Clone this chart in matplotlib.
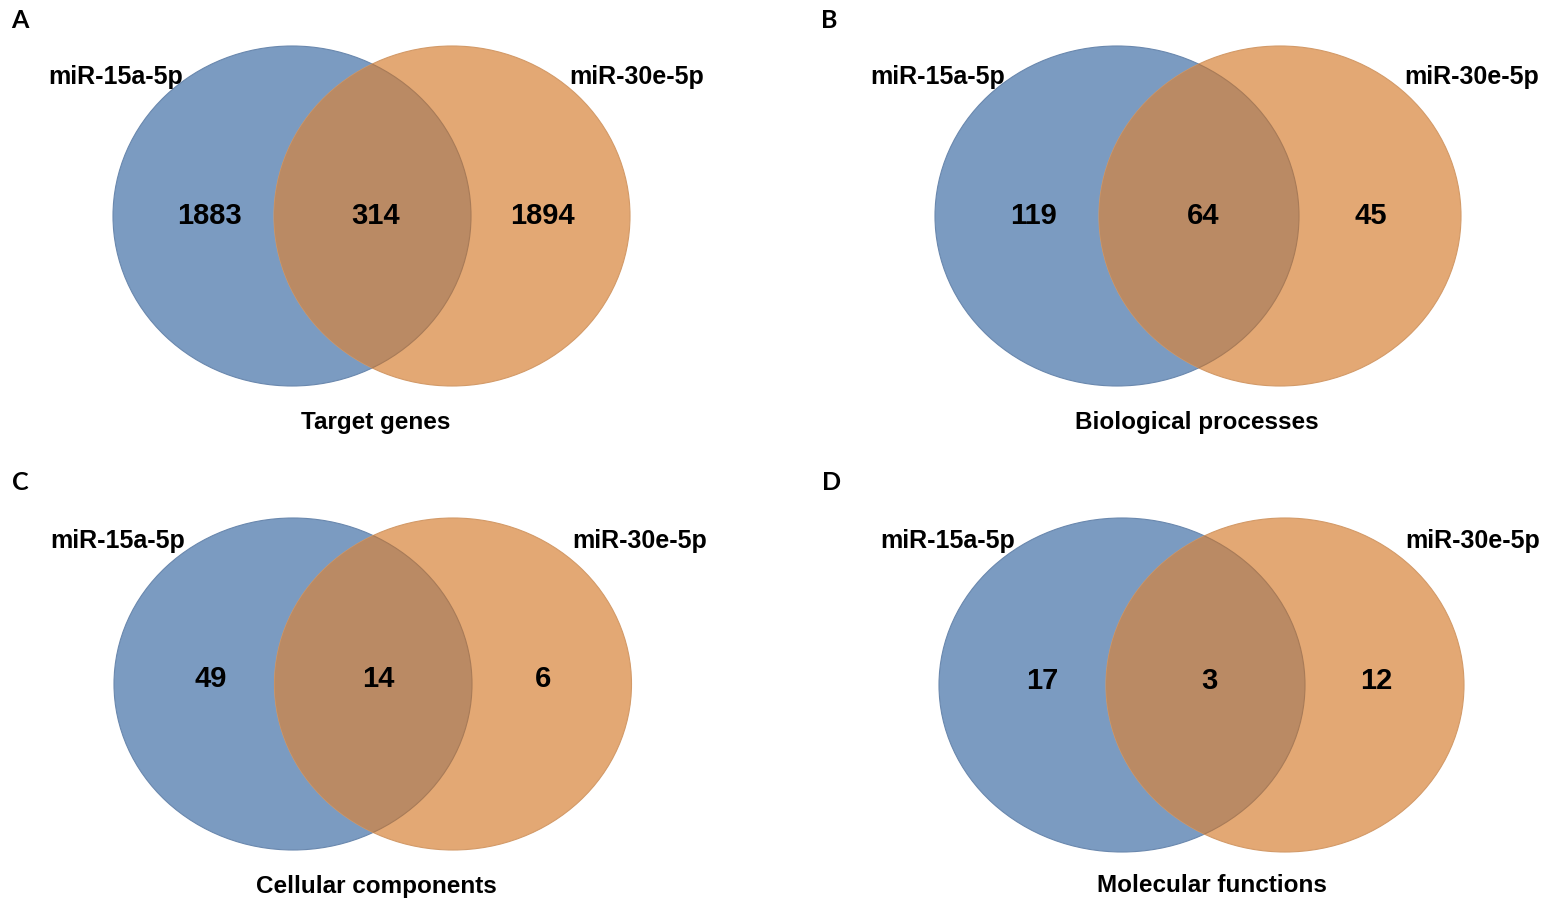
import matplotlib
matplotlib.use("Agg")
import matplotlib.pyplot as plt
from matplotlib.patches import Ellipse

# Venn counts per panel: (only miR-15a-5p, shared, only miR-30e-5p)
panel_letters = ["A", "B", "C", "D"]
panel_titles = ["Target genes", "Biological processes", "Cellular components", "Molecular functions"]
set_names = ["miR-15a-5p", "miR-30e-5p"]
only_15a = [1883, 119, 49, 17]
shared = [314, 64, 14, 3]
only_30e = [1894, 45, 6, 12]

BLUE = "#7B9BC1"
ORANGE = "#E3A874"
OVERLAP = "#BA8A64"
EDGE_BLUE = "#6A88AE"
EDGE_ORANGE = "#D39A68"

W, H = 1549, 901
fig = plt.figure(figsize=(W / 100, H / 100), dpi=100)
ax = fig.add_axes([0, 0, 1, 1])
ax.set_xlim(0, W)
ax.set_ylim(H, 0)
ax.set_aspect("auto")
ax.axis("off")

# layout per panel (pixel space)
layout = [
    dict(letter=(20, 20), lc=(292, 216), lw=358, rc=(452, 216), rw=356, eh=340,
         ln=(116, 77), rn=(637, 77), num_y=216, nx=(209, 376, 542), title=(376, 422)),
    dict(letter=(829, 20), lc=(1117, 216), lw=364, rc=(1280, 216), rw=362, eh=340,
         ln=(938, 77), rn=(1472, 77), num_y=216, nx=(1034, 1203, 1371), title=(1197, 422)),
    dict(letter=(20, 483), lc=(293, 684), lw=358, rc=(453, 684), rw=357, eh=332,
         ln=(118, 541), rn=(640, 541), num_y=679, nx=(211, 378, 543), title=(376, 886)),
    dict(letter=(832, 483), lc=(1122, 685), lw=366, rc=(1285, 685), rw=358, eh=334,
         ln=(948, 541), rn=(1473, 541), num_y=681, nx=(1042, 1209, 1376), title=(1212, 886)),
]

arial = "Liberation Sans"
cal = "Lato"

for i, L in enumerate(layout):
    left = Ellipse(L["lc"], L["lw"], L["eh"], facecolor=BLUE, edgecolor=EDGE_BLUE, lw=0.8, zorder=1)
    right = Ellipse(L["rc"], L["rw"], L["eh"], facecolor=ORANGE, edgecolor=EDGE_ORANGE, lw=0.8, zorder=2)
    ax.add_patch(left)
    ax.add_patch(right)
    # shared region: left ellipse clipped to the right one
    inter = Ellipse(L["lc"], L["lw"], L["eh"], facecolor=OVERLAP, edgecolor="#A87B58", lw=0.8, zorder=3)
    ax.add_patch(inter)
    inter.set_clip_path(right)

    ax.text(*L["letter"], panel_letters[i], fontsize=18, fontweight="bold", family=cal,
            ha="center", va="center")
    ax.text(*L["ln"], set_names[0], fontsize=18, fontweight="bold", family=arial,
            ha="center", va="center")
    ax.text(*L["rn"], set_names[1], fontsize=18, fontweight="bold", family=arial,
            ha="center", va="center")
    for x, v in zip(L["nx"], (only_15a[i], shared[i], only_30e[i])):
        ax.text(x, L["num_y"], str(v), fontsize=21, fontweight="bold", family=arial,
                ha="center", va="center", zorder=5)
    ax.text(*L["title"], panel_titles[i], fontsize=17.5, fontweight="bold", family=arial,
            ha="center", va="center")

fig.savefig("out.png", dpi=100, facecolor="white")
